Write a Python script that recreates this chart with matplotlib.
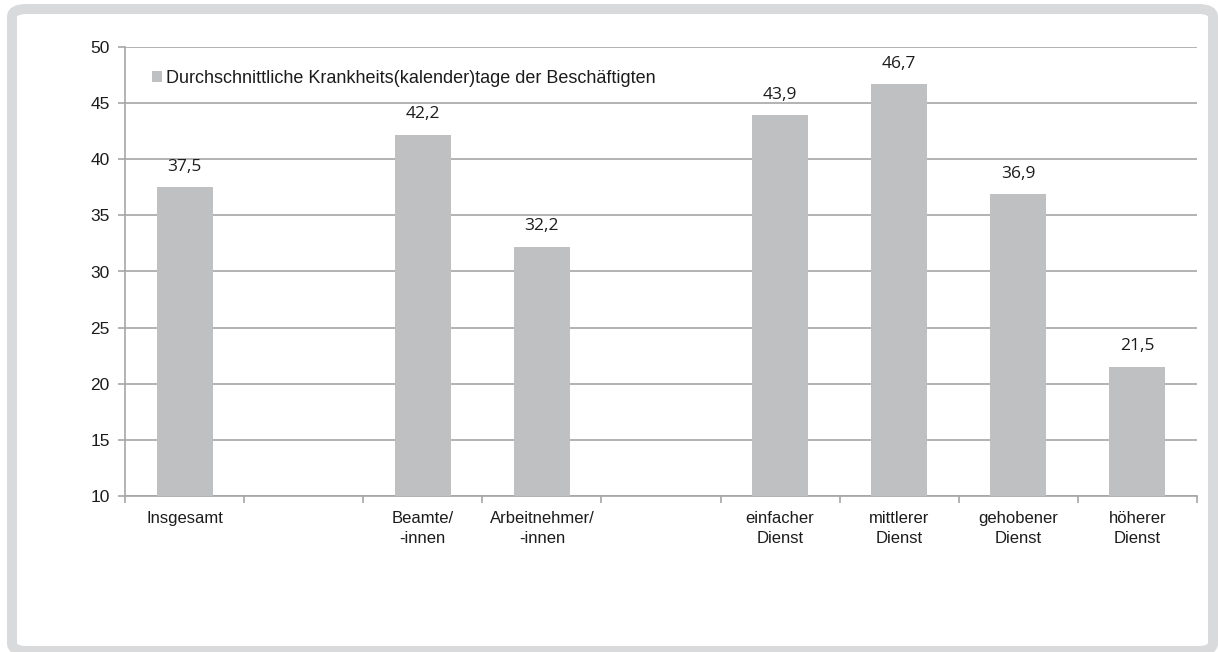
import matplotlib.pyplot as plt
from matplotlib.patches import FancyBboxPatch

categories = ["Insgesamt", "", "Beamte/\n-innen", "Arbeitnehmer/\n-innen", "",
              "einfacher\nDienst", "mittlerer\nDienst", "gehobener\nDienst", "höherer\nDienst"]
values = [37.5, None, 42.2, 32.2, None, 43.9, 46.7, 36.9, 21.5]
value_labels = ["37,5", "", "42,2", "32,2", "", "43,9", "46,7", "36,9", "21,5"]
legend_label = "Durchschnittliche Krankheits(kalender)tage der Beschäftigten"
yticks = [10, 15, 20, 25, 30, 35, 40, 45, 50]

bar_color = "#bfc0c2"
grid_color = "#a6a6a6"
text_color = "#1c1c1c"

plt.rcParams['font.family'] = ['Liberation Sans', 'DejaVu Sans']

fig = plt.figure(figsize=(12.18, 6.52), dpi=100)

# gray frame around the chart (drawn behind the axes)
frame = FancyBboxPatch((12/1218, 1/652), 1201/1218, 642/652,
                       boxstyle="round,pad=0,rounding_size=0.012",
                       transform=fig.transFigure, facecolor="white", edgecolor="#d9dadc",
                       linewidth=7.2, zorder=-5)
fig.patches.append(frame)

ax = fig.add_axes([125/1218, 1-496/652, (1197-125)/1218, (496-47)/652])
ax.set_facecolor("none")

xs = [i for i, v in enumerate(values) if v is not None]
hs = [v for v in values if v is not None]
ax.bar(xs, hs, width=0.47, color=bar_color, zorder=3, label=legend_label)

for i, v in enumerate(values):
    if v is None:
        continue
    ax.annotate(value_labels[i], (i, v), xytext=(0, 9), textcoords="offset points",
                ha="center", va="bottom", fontsize=12.5, color=text_color,
                family=['Open Sans', 'DejaVu Sans'])

ax.set_xlim(-0.5, len(categories) - 0.5)
ax.set_ylim(10, 50)
ax.set_yticks(yticks)
ax.set_yticklabels([str(t) for t in yticks], fontsize=12.5, color=text_color)
ax.yaxis.grid(True, color=grid_color, linewidth=1.2, zorder=1)
ax.tick_params(axis="y", length=5, color=grid_color, width=1.2, pad=6)

# category labels centred, tick marks on the boundaries
ax.set_xticks(range(len(categories)))
ax.set_xticklabels(categories, fontsize=12, color=text_color, linespacing=1.38)
ax.tick_params(axis="x", which="major", length=0, pad=11)
ax.set_xticks([i - 0.5 for i in range(len(categories) + 1)], minor=True)
ax.tick_params(axis="x", which="minor", length=5, color=grid_color, width=1.2)

for s in ["top", "right"]:
    ax.spines[s].set_visible(False)
for s in ["left", "bottom"]:
    ax.spines[s].set_color(grid_color)
    ax.spines[s].set_linewidth(1.2)

leg = ax.legend(loc="upper left", bbox_to_anchor=(0.01, 0.985), frameon=False,
                fontsize=13, handlelength=0.55, handleheight=0.55, handletextpad=0.25)
for t in leg.get_texts():
    t.set_color(text_color)

fig.savefig("out.png", dpi=100)
